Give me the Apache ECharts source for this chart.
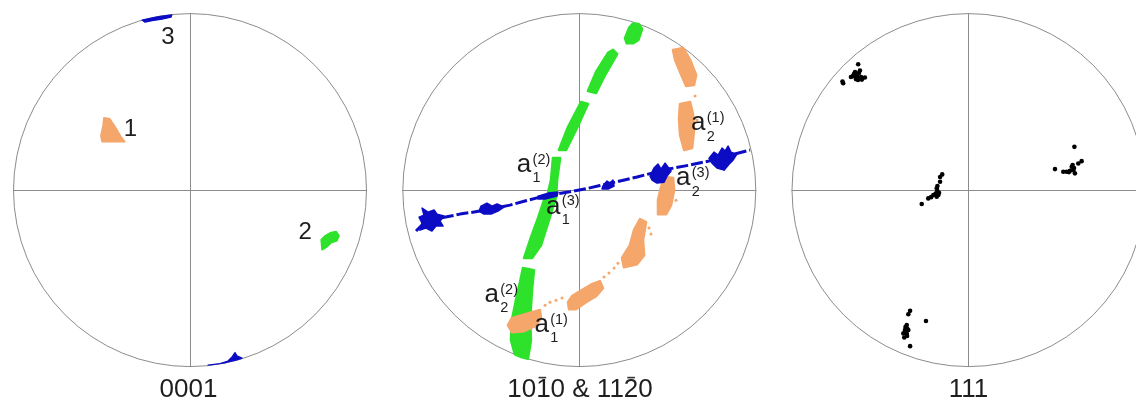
<!DOCTYPE html>
<html><head><meta charset="utf-8">
<script src="https://cdn.jsdelivr.net/npm/echarts@6/dist/echarts.min.js"></script>
<style>html,body{margin:0;padding:0;background:#fff}#c{width:1136px;height:403px}</style>
</head><body><div id="c"></div><script>
// ---------- DATA (pole-figure coordinates, unit circle, y up) ----------
// 0001 pole figure
const pf0001Orange = [
  [[-0.488,0.410],[-0.454,0.404],[-0.420,0.353],[-0.391,0.302],[-0.369,0.274],[-0.499,0.274],[-0.505,0.308],[-0.493,0.365]]
];
const pf0001Green = [
  [[0.748,-0.338],[0.743,-0.282],[0.765,-0.259],[0.794,-0.242],[0.828,-0.234],[0.845,-0.259],[0.833,-0.287],[0.799,-0.299],[0.777,-0.321]]
];
const pf0001Blue = [
  [[-0.272,0.963],[-0.227,0.973],[-0.170,0.984],[-0.102,0.993],[-0.108,0.980],[-0.159,0.968],[-0.215,0.960],[-0.255,0.951]],
  [[0.102,-0.992],[0.170,-0.983],[0.215,-0.968],[0.238,-0.945],[0.255,-0.920],[0.266,-0.939],[0.295,-0.952],[0.261,-0.963],[0.204,-0.977],[0.136,-0.988]]
];
const pf0001LabelText = ['1','2','3'];
const pf0001LabelPos = [[-0.337,0.342],[0.652,-0.242],[-0.125,0.864]];

// 10-10 & 11-20 pole figure
const prismGreen = [
  [[-0.319,-0.442],[-0.257,-0.454],[-0.268,-0.567],[-0.279,-0.737],[-0.274,-0.850],[-0.291,-0.955],[-0.325,-0.947],[-0.365,-0.930],[-0.387,-0.850],[-0.382,-0.737],[-0.359,-0.624],[-0.336,-0.522]],
  [[-0.194,-0.040],[-0.132,-0.040],[-0.172,-0.170],[-0.217,-0.312],[-0.268,-0.385],[-0.313,-0.385],[-0.279,-0.283],[-0.234,-0.159]],
  [[-0.149,0.181],[-0.109,0.181],[-0.126,0.057],[-0.132,-0.040],[-0.183,-0.040],[-0.160,0.057]],
  [[0.010,0.499],[0.049,0.488],[-0.013,0.352],[-0.075,0.227],[-0.115,0.227],[-0.064,0.357]],
  [[0.049,0.561],[0.095,0.669],[0.163,0.777],[0.191,0.794],[0.214,0.771],[0.146,0.652],[0.095,0.550]],
  [[0.269,0.832],[0.259,0.860],[0.282,0.919],[0.304,0.944],[0.336,0.941],[0.356,0.913],[0.335,0.851],[0.306,0.832]]
];
const prismOrange = [
  [[0.531,0.794],[0.588,0.805],[0.628,0.737],[0.662,0.652],[0.650,0.595],[0.605,0.590],[0.571,0.669],[0.543,0.737]],
  [[0.571,0.488],[0.628,0.499],[0.645,0.425],[0.650,0.340],[0.639,0.238],[0.594,0.227],[0.571,0.312],[0.565,0.408]],
  [[0.486,0.074],[0.531,0.068],[0.537,0.000],[0.520,-0.085],[0.492,-0.136],[0.446,-0.136],[0.446,-0.057],[0.463,0.017]],
  [[0.344,-0.164],[0.378,-0.181],[0.361,-0.283],[0.367,-0.369],[0.327,-0.420],[0.253,-0.437],[0.242,-0.385],[0.287,-0.312],[0.310,-0.227]],
  [[-0.041,-0.601],[0.015,-0.567],[0.072,-0.533],[0.117,-0.516],[0.134,-0.556],[0.095,-0.601],[0.038,-0.635],[-0.019,-0.675],[-0.058,-0.675],[-0.064,-0.635]],
  [[-0.382,-0.726],[-0.325,-0.709],[-0.268,-0.692],[-0.223,-0.680],[-0.217,-0.726],[-0.251,-0.771],[-0.313,-0.799],[-0.382,-0.805],[-0.404,-0.765]]
];
const prismOrangeSpecks = [[-0.194,-0.652],[-0.166,-0.635],[-0.132,-0.624],[-0.098,-0.612],[0.140,-0.493],[0.168,-0.470],[0.197,-0.442],[0.219,-0.414],[0.395,-0.215],[0.406,-0.249],[0.548,-0.057],[0.667,0.397],[0.656,0.533]];
const prismBlue = [
  [[-0.891,-0.102],[-0.857,-0.125],[-0.823,-0.113],[-0.806,-0.136],[-0.767,-0.147],[-0.789,-0.176],[-0.772,-0.204],[-0.812,-0.204],[-0.835,-0.232],[-0.869,-0.215],[-0.903,-0.227],[-0.891,-0.187],[-0.908,-0.153],[-0.880,-0.142]],
  [[-0.557,-0.091],[-0.523,-0.074],[-0.495,-0.091],[-0.466,-0.079],[-0.427,-0.096],[-0.461,-0.119],[-0.500,-0.136],[-0.540,-0.136],[-0.568,-0.119]],
  [[-0.234,-0.034],[-0.177,-0.017],[-0.121,-0.011],[-0.126,-0.034],[-0.194,-0.051],[-0.234,-0.051]],
  [[0.134,0.023],[0.157,0.051],[0.174,0.040],[0.191,0.057],[0.197,0.023],[0.163,0.006],[0.129,0.006]],
  [[0.423,0.125],[0.446,0.147],[0.463,0.119],[0.486,0.153],[0.503,0.130],[0.520,0.108],[0.497,0.079],[0.480,0.045],[0.440,0.040],[0.412,0.057],[0.401,0.079]],
  [[0.763,0.215],[0.786,0.198],[0.809,0.238],[0.826,0.221],[0.843,0.249],[0.859,0.215],[0.893,0.204],[0.871,0.170],[0.848,0.147],[0.820,0.113],[0.780,0.125],[0.752,0.153],[0.735,0.181]]
];
const prismBlueTrace = [[-0.925,-0.232],[-0.874,-0.181],[-0.789,-0.159],[-0.676,-0.136],[-0.563,-0.119],[-0.478,-0.102],[-0.393,-0.085],[-0.308,-0.062],[-0.223,-0.040],[-0.132,-0.023],[-0.053,-0.009],[0.044,0.009],[0.117,0.026],[0.202,0.045],[0.327,0.074],[0.412,0.096],[0.503,0.119],[0.627,0.142],[0.758,0.170],[0.854,0.198],[0.967,0.227]];
const prismLabelPos = [[-0.313,0.132],[-0.147,-0.104],[0.674,0.368],[0.589,0.057],[-0.496,-0.605],[-0.213,-0.775]];
const prismLabelSup = ['(2)','(3)','(1)','(3)','(2)','(1)'];
const prismLabelSub = ['1','1','2','2','2','1'];

// 111 pole figure
const pf111Points = [
  [-0.625,0.713],[-0.710,0.605],[-0.714,0.615],[-0.643,0.669],[-0.632,0.652],[-0.621,0.663],[-0.609,0.641],[-0.638,0.629],[-0.655,0.646],[-0.626,0.624],[-0.604,0.626],[-0.587,0.638],[-0.615,0.677],[-0.649,0.658],[-0.666,0.641],[-0.632,0.641],[-0.643,0.646],
  [-0.149,0.089],[-0.161,0.074],[-0.161,0.047],[-0.180,0.010],[-0.186,-0.019],[-0.171,-0.028],[-0.199,-0.028],[-0.228,-0.047],[-0.265,-0.079],[-0.177,-0.004],[-0.180,-0.038],[-0.167,-0.015],[-0.176,0.023],[-0.212,-0.040],
  [0.600,0.245],[0.490,0.119],[0.641,0.164],[0.622,0.151],[0.585,0.132],[0.594,0.113],[0.556,0.104],[0.537,0.104],[0.603,0.095],[0.575,0.109],[0.590,0.142],[0.598,0.125],[0.569,0.102],
  [-0.331,-0.684],[-0.341,-0.703],[-0.241,-0.742],[-0.350,-0.765],[-0.360,-0.793],[-0.369,-0.812],[-0.350,-0.812],[-0.364,-0.835],[-0.341,-0.793],[-0.331,-0.884],[-0.347,-0.784],[-0.357,-0.776],[-0.348,-0.827]
];

const figureTitles = ['0001','1010 & 1120','111'];
const titleOverbars = [[],[2,9],[]];

// ---------- STYLE / LAYOUT ----------
const ORANGE = '#f5a66b', GREEN = '#2ee22b', BLUE = '#0c0cc4', BLACK = '#000';
const LINE = '#8c8c8c', TEXT = '#1e1e1e';
const FONT_FAMILY = '"Liberation Sans", Arial, sans-serif';
const D = 353;
const gridLefts = [13.5, 402.8, 792];
const gridTop = 13.6;
const titleX = [188.5, 580, 968.5];
const titleY = 390;

const grids = gridLefts.map(l => ({left: l, top: gridTop, width: D, height: D, outerBoundsMode: 'none', containLabel: false}));
function axis(i){
  return {type:'value', gridIndex:i, min:-1, max:1, show:true,
    axisLine:{show:true, onZero:true, lineStyle:{color:LINE, width:1}},
    axisTick:{show:false}, axisLabel:{show:false}, splitLine:{show:false}};
}
function circleSeries(i){
  return {type:'custom', xAxisIndex:i, yAxisIndex:i, clip:false, silent:true, z:1,
    data:[[0,0]],
    renderItem:(p, api) => {
      const c = api.coord([0,0]);
      const r = api.size([1,1])[0];
      return {type:'circle', shape:{cx:c[0], cy:c[1], r:r}, style:{fill:'none', stroke:LINE, lineWidth:1}};
    }};
}
function blobSeries(polys, color, i, z, sw){
  return {type:'custom', xAxisIndex:i, yAxisIndex:i, clip:false, silent:true, z:z,
    data: polys.map((p, k) => [p[0][0], p[0][1], k]),
    renderItem:(p, api) => {
      const poly = polys[api.value(2)];
      return {type:'polygon', shape:{points: poly.map(pt => api.coord(pt))},
        style:{fill:color, stroke:color, lineWidth:sw, lineJoin:'round'}};
    }};
}
function simpleLabels(pos, texts, i){
  return {type:'custom', xAxisIndex:i, yAxisIndex:i, clip:false, silent:true, z:10,
    data: pos.map((p,k) => [p[0], p[1], k]),
    renderItem:(p, api) => {
      const c = api.coord([api.value(0), api.value(1)]);
      return {type:'text', x:c[0], y:c[1], style:{text:texts[api.value(2)], fill:TEXT,
        font:'24px ' + FONT_FAMILY, align:'center', verticalAlign:'middle'}};
    }};
}
function subSupLabels(pos, sups, subs, i){
  return {type:'custom', xAxisIndex:i, yAxisIndex:i, clip:false, silent:true, z:10,
    data: pos.map((p,k) => [p[0], p[1], k]),
    renderItem:(p, api) => {
      const c = api.coord([api.value(0), api.value(1)]);
      const k = api.value(2);
      return {type:'group', children:[
        {type:'text', x:c[0], y:c[1]-2, style:{text:'a', fill:TEXT, font:'26px ' + FONT_FAMILY, align:'center', verticalAlign:'middle'}},
        {type:'text', x:c[0]+8.5, y:c[1]-7, style:{text:sups[k], fill:TEXT, font:'14.5px ' + FONT_FAMILY, align:'left', verticalAlign:'middle'}},
        {type:'text', x:c[0]+8.5, y:c[1]+11.5, style:{text:subs[k], fill:TEXT, font:'14.5px ' + FONT_FAMILY, align:'left', verticalAlign:'middle'}}
      ]};
    }};
}

// titles with overbars
const TITLE_FONT = '26px ' + FONT_FAMILY;
const mctx = document.createElement('canvas').getContext('2d');
mctx.font = TITLE_FONT;
const graphics = [];
figureTitles.forEach((t, i) => {
  graphics.push({type:'text', x:titleX[i], y:titleY, silent:true,
    style:{text:t, font:TITLE_FONT, fill:TEXT, align:'center', verticalAlign:'middle'}});
  const W = mctx.measureText(t).width;
  const left = titleX[i] - W/2;
  titleOverbars[i].forEach(k => {
    const x0 = left + mctx.measureText(t.slice(0,k)).width;
    const cw = mctx.measureText(t[k]).width;
    const cx = x0 + cw/2 + (t[k] === '1' ? -1 : 0);
    graphics.push({type:'rect', silent:true, shape:{x:cx-3.8, y:376.8, width:7.6, height:1.6}, style:{fill:'#333'}});
  });
});

const chart = echarts.init(document.getElementById('c'), null, {renderer:'canvas'});
chart.setOption({
  animation:false,
  backgroundColor:'#fff',
  grid: grids,
  xAxis: [0,1,2].map(axis),
  yAxis: [0,1,2].map(axis),
  graphic: graphics,
  series: [
    circleSeries(0), circleSeries(1), circleSeries(2),
    blobSeries(pf0001Orange, ORANGE, 0, 3, 1.5),
    blobSeries(pf0001Green, GREEN, 0, 3, 1.5),
    blobSeries(pf0001Blue, BLUE, 0, 3, 1.2),
    simpleLabels(pf0001LabelPos, pf0001LabelText, 0),
    blobSeries(prismGreen, GREEN, 1, 3, 2.6),
    blobSeries(prismOrange, ORANGE, 1, 4, 2.6),
    {type:'scatter', xAxisIndex:1, yAxisIndex:1, data:prismOrangeSpecks, symbolSize:3, itemStyle:{color:ORANGE, opacity:1}, silent:true, z:4},
    {type:'line', xAxisIndex:1, yAxisIndex:1, data:prismBlueTrace, showSymbol:false, symbol:'none', silent:true, z:5,
      lineStyle:{color:BLUE, width:3, type:[12,3]}},
    blobSeries(prismBlue, BLUE, 1, 5, 1.5),
    subSupLabels(prismLabelPos, prismLabelSup, prismLabelSub, 1),
    {type:'scatter', xAxisIndex:2, yAxisIndex:2, data:pf111Points, symbolSize:4.6, itemStyle:{color:BLACK, opacity:1}, silent:true, z:4}
  ]
});
</script></body></html>
